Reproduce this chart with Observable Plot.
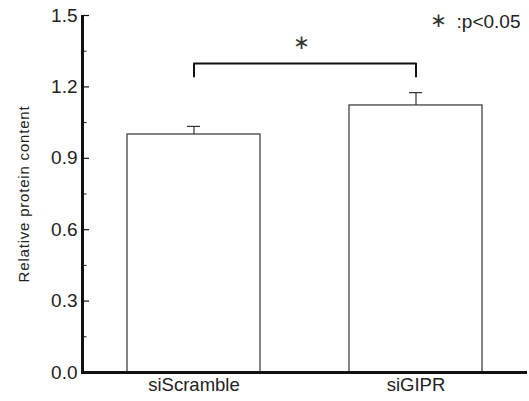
<!DOCTYPE html>
<html>
<head>
<meta charset="utf-8">
<script src="https://cdn.jsdelivr.net/npm/d3@7"></script>
<script src="https://cdn.jsdelivr.net/npm/@observablehq/plot@0.6"></script>
<style>
  html, body { margin: 0; padding: 0; background: #fff; }
  svg { font-family: "Liberation Sans", Arial, "DejaVu Sans", sans-serif; }
  g[aria-label="y-axis label"] text { font-size: 15px; letter-spacing: 0.8px; }
</style>
</head>
<body>
<div id="chart"></div>
<script>
const groups = ["siScramble", "siGIPR"];
const values = [1.0, 1.122];
const errors = [0.034, 0.054];
const majorTicks = [0, 0.3, 0.6, 0.9, 1.2, 1.5];
const minorTicks = [0.15, 0.45, 0.75, 1.05, 1.35];
const bracketX = ["siScramble", "siScramble", "siGIPR", "siGIPR"];
const bracketY = [1.244, 1.298, 1.298, 1.244];
const starY = 1.385;
const sigLabel = "∗";
const legendStar = "∗";
const legendText = ":p<0.05";
const yLabel = "Relative protein content";

const data = groups.map((g, i) => ({group: g, value: values[i], err: errors[i]}));
const bracket = bracketX.map((x, i) => ({x, y: bracketY[i]}));

const W = 529, ML = 83, MR = 2;
const frameW = W - ML - MR;

const chart = Plot.plot({
  width: W,
  height: 401,
  marginLeft: ML,
  marginRight: MR,
  marginTop: 15,
  marginBottom: 29,
  style: {color: "#222", background: "#fff"},
  x: {domain: groups, paddingInner: 0.4, paddingOuter: 0.2},
  y: {domain: [0, 1.5]},
  marks: [
    Plot.barY(data, {x: "group", y: "value", fill: "white", stroke: "#333", strokeWidth: 1.2}),
    Plot.ruleX(data, {x: "group", y1: "value", y2: d => d.value + d.err, stroke: "#333", strokeWidth: 1.2}),
    Plot.tickY(data, {x: "group", y: d => d.value + d.err, stroke: "#333", strokeWidth: 1.2, insetLeft: 60, insetRight: 60}),
    Plot.line(bracket, {x: "x", y: "y", stroke: "#111", strokeWidth: 2}),
    Plot.text([{t: sigLabel, y: starY}], {text: "t", y: "y", fontSize: 20, fontFamily: "DejaVu Sans", fill: "#333", dx: -4}),
    Plot.text([legendText], {text: d => d, frameAnchor: "top-right", textAnchor: "end", lineAnchor: "middle", dx: -7, dy: 6, fontSize: 19, fill: "#222"}),
    Plot.text([legendStar], {text: d => d, frameAnchor: "top-right", textAnchor: "middle", lineAnchor: "middle", dx: -89, dy: 5, fontSize: 20, fontFamily: "DejaVu Sans", fill: "#333"}),
    Plot.tickY(majorTicks, {y: d => d, stroke: "#111", strokeWidth: 1.2, insetRight: frameW - 6}),
    Plot.tickY(minorTicks, {y: d => d, stroke: "#111", strokeWidth: 1, insetRight: frameW - 3.5}),
    Plot.axisY(majorTicks, {tickSize: 0, tickPadding: 6, fontSize: 19, tickFormat: d3.format(".1f"), label: yLabel, labelAnchor: "center", labelArrow: "none", labelOffset: 65}),
    Plot.axisX({tickSize: 0, tickPadding: 5, fontSize: 18.5, label: null}),
    Plot.ruleY([0], {stroke: "#111", strokeWidth: 3, dx: -2, insetRight: -2}),
    Plot.rect([0], {y1: 0, y2: 1.5, fill: "#111", insetRight: frameW - 3, dx: -2})
  ]
});
document.getElementById("chart").appendChild(chart);
</script>
</body>
</html>
